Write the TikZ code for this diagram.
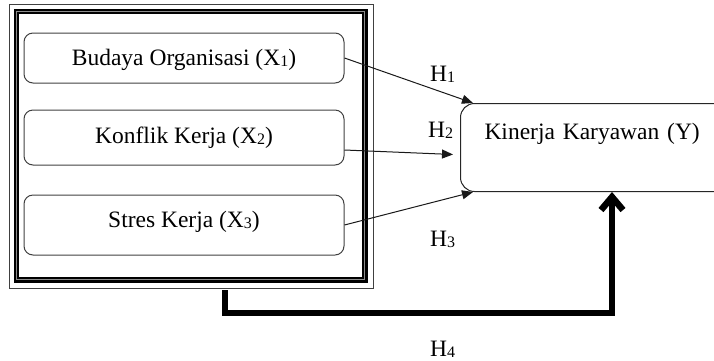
\documentclass[tikz,border=0pt]{standalone}
\usepackage{fontspec}
\setmainfont{Liberation Serif}
\usetikzlibrary{arrows.meta}
% small lowered index digit, as in X1, H1
\newcommand\lowidx[1]{\raisebox{-1pt}{\fontsize{16}{16}\selectfont #1}}
\newcommand\mainsz{\fontsize{23.5}{28}\selectfont}
\begin{document}
\begin{tikzpicture}[x=1pt,y=-1pt,
  varbox/.style={draw=black!75, line width=1pt, rounded corners=9pt,
    minimum width=320pt, inner sep=0pt, font=\mainsz, text height=15.6pt},
  ybox/.style={draw=black!85, line width=1pt, rounded corners=14pt,
    inner xsep=24pt, inner ysep=0pt, text width=300pt, align=left,
    minimum height=88pt, font=\mainsz, text height=15.6pt, text depth=31.6pt},
  frameline/.style={draw=black, line width=5.5pt, minimum width=348.5pt,
    minimum height=268.5pt, inner sep=0pt},
  hyp/.style={-{Triangle[length=11pt,width=9pt]}, line width=1pt, black!90},
  bigarrow/.style={-{Straight Barb[length=13pt,width=22pt]}, line width=6.5pt,
    line join=miter},
  hlabel/.style={font=\mainsz, anchor=base west, inner sep=0pt}]
\useasboundingbox (0,0) rectangle (714,360);

% grouping frame of the independent variables (thin-thick border)
\node[frameline] (grp) at (190.75,145.75) {};
\draw[line width=1.2pt, black!75] ([shift={(-4.5,-4.5)}]grp.north west)
  rectangle ([shift={(6,6)}]grp.south east);
\draw[line width=1.2pt, black!45] ([shift={(3.1,3.1)}]grp.north west)
  rectangle ([shift={(-3.1,-3.1)}]grp.south east);

% independent variables
\node[varbox, minimum height=50pt, text depth=-1pt] (b1) at (184,58)
  {Budaya Organisasi (X\lowidx{1})};
\node[varbox, minimum height=55pt, text depth=4pt] (b2) at (184,137.5)
  {Konflik Kerja (X\lowidx{2})};
\node[varbox, minimum height=60pt, text depth=11pt] (b3) at (184,225)
  {Stres Kerja (X\lowidx{3})};

% dependent variable
\node[ybox, anchor=north west] (ky) at (460,103) {Kinerja Karyawan (Y)};

% partial hypotheses
\draw[hyp] (b1.east) -- ([xshift=13pt]ky.north west);
\draw[hyp] ([shift={(0,12.5)}]b2.east) -- ([shift={(-7,7)}]ky.west);
\draw[hyp] (b3.east) -- ([xshift=13pt]ky.south west);

% simultaneous hypothesis
\coordinate (h4a) at (225,0);
\coordinate (h4b) at (612,0);
\coordinate (h4y) at (0,313);
\draw[bigarrow, shorten <=7.5pt] (grp.south -| h4a) -- (h4a |- h4y)
  -- (h4b |- h4y) -- (ky.south -| h4b);

% labels
\node[hlabel] (l1) at (430,81) {H\lowidx{1}};
\node[hlabel] (l2) at (428,137) {H\lowidx{2}};
\node[hlabel] (l3) at (430,246) {H\lowidx{3}};
\node[hlabel] (l4) at (430,356) {H\lowidx{4}};
\end{tikzpicture}
\end{document}
